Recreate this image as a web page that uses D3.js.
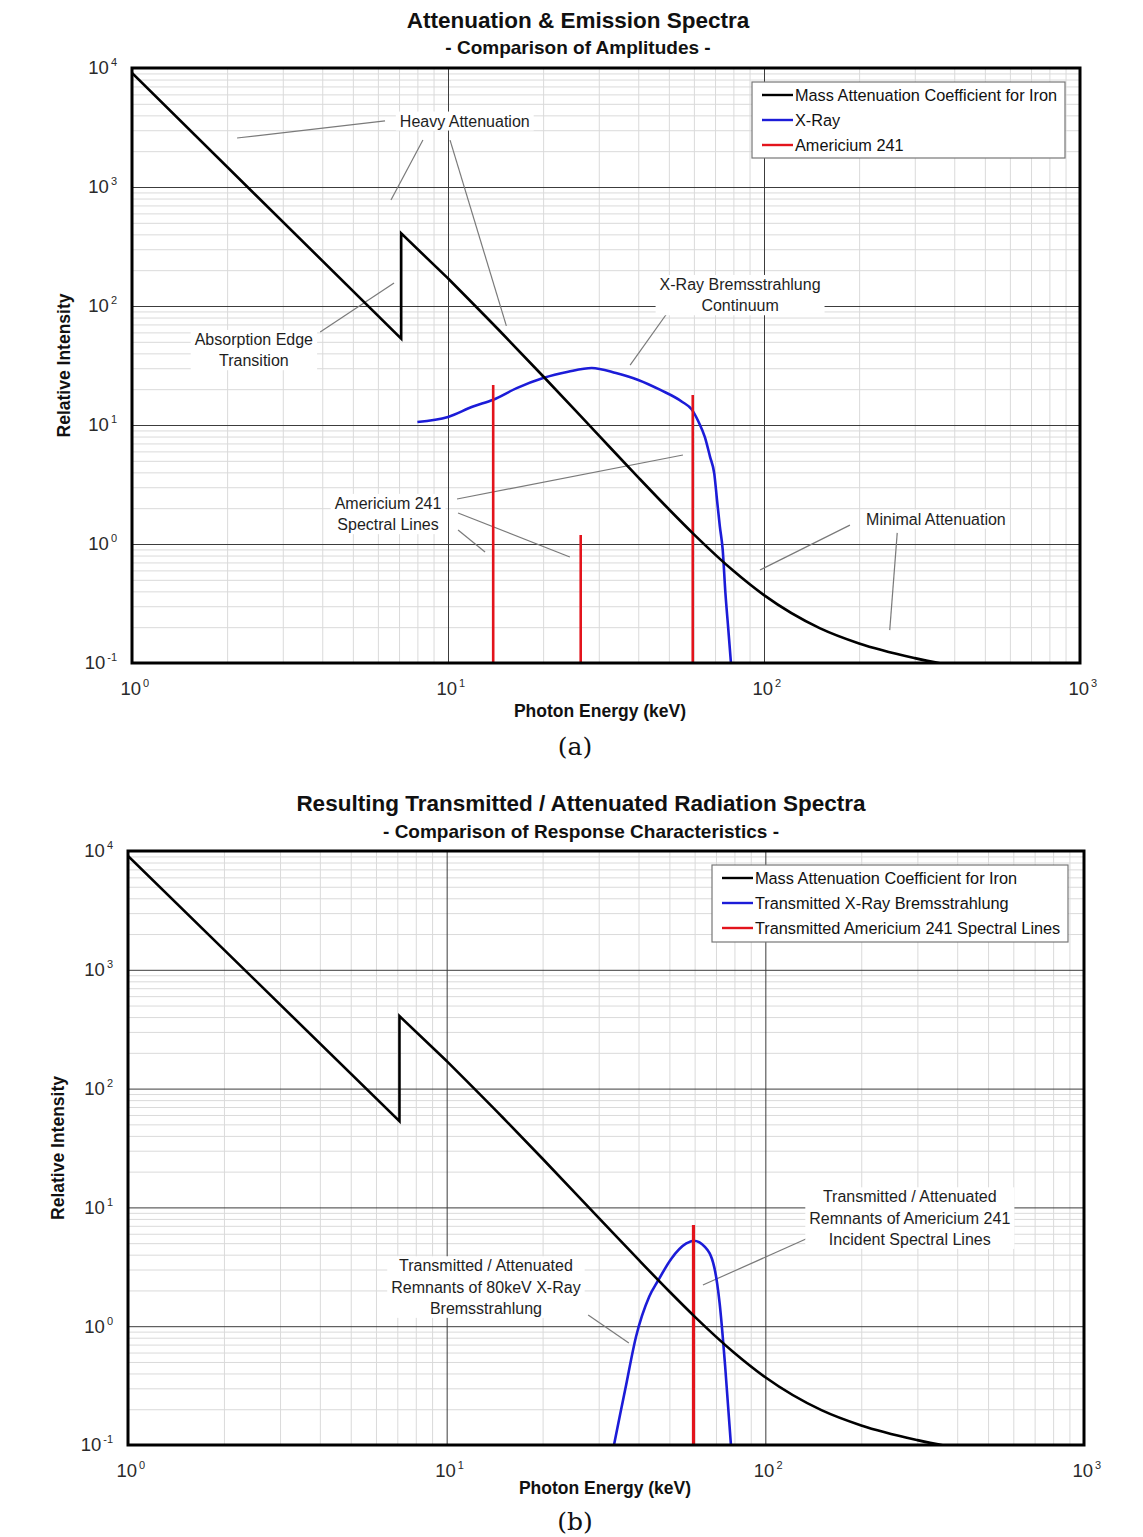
<!DOCTYPE html>
<html lang="en">
<head>
<meta charset="UTF-8">
<title>Attenuation & Emission Spectra</title>
<script src="https://d3js.org/d3.v7.min.js"></script>
<style>
    body { margin: 0; background: #fff; font-family: "Liberation Sans", Arial, sans-serif; }
    .grid-minor line { stroke: #dadada; stroke-width: 1; }
    .grid-major line { stroke: #3c3c3c; stroke-width: 1; }
    .grid-minor path, .grid-major path, .ticks path, .ticks line { display: none; }
    .ticks text { font-size: 18.5px; fill: #2a2a2a; font-family: "Liberation Sans", Arial, sans-serif; }
    .note { font-size: 16px; fill: #1e1e1e; }
    .leader { stroke: #7a7a7a; stroke-width: 1.2; fill: none; }
    .legend text { font-size: 16.3px; fill: #111; }
</style>
</head>
<body>
<svg id="fig" width="1143" height="1537"></svg>
<script>
// mass attenuation coefficient of iron (cm2/g) vs photon energy (keV), K edge at 7.11 keV
const ironEnergy = [1, 7.11, 7.11, 10, 15, 20, 30, 40, 50, 60, 80, 100, 150, 200, 300, 400];
const ironMu     = [9085, 53.19, 407.5, 170.6, 57.08, 25.68, 8.176, 3.629, 1.958, 1.205, 0.5952, 0.3717, 0.1964, 0.146, 0.1099, 0.094];

// (a) incident x-ray bremsstrahlung continuum
const xrayEnergy    = [8.0, 10, 12, 13.9, 16.5, 20, 24, 28.5, 34, 40, 47, 55, 59.2, 62, 65, 67.5, 69.6, 71, 72.5, 74, 75.5, 77, 78.6];
const xrayIntensity = [10.6, 11.7, 14.3, 16.3, 20.4, 24.8, 28, 30.1, 27.3, 23.9, 19.7, 15.7, 13.4, 10.7, 7.9, 5.4, 3.9, 2.35, 1.4, 0.9, 0.385, 0.2, 0.1];

// (a) americium 241 spectral lines
const amEnergy = [13.9, 26.3, 59.5];
const amPeak   = [21.7, 1.19, 17.9];

// (b) transmitted x-ray remnant
const transEnergy    = [33.5, 35, 36.3, 39.3, 43.2, 46.2, 50.7, 56.5, 59.6, 64.6, 69.1, 71.9, 74.8, 78];
const transIntensity = [0.1, 0.18, 0.29, 0.82, 1.77, 2.45, 3.7, 4.97, 5.24, 4.66, 3.16, 1.55, 0.46, 0.1];

// (b) transmitted americium line
const transAmEnergy = [59.5];
const transAmPeak   = [7.1];

const xTickExp = [0, 1, 2, 3];
const yTickExp = [-1, 0, 1, 2, 3, 4];

const legendA = ["Mass Attenuation Coefficient for Iron", "X-Ray", "Americium 241"];
const legendB = ["Mass Attenuation Coefficient for Iron", "Transmitted X-Ray Bremsstrahlung", "Transmitted Americium 241 Spectral Lines"];
const seriesColors = ["#000000", "#1c1cd8", "#e3141c"];

// annotations, anchored in data units [keV, intensity]
const notesA = [
    {lines: ["Heavy Attenuation"], at: [11.3, 3590],
     leaders: [[[6.32, 3590], [2.15, 2580]], [[8.33, 2480], [6.60, 778]], [[10.15, 2480], [15.3, 68]]]},
    {lines: ["Absorption Edge", "Transition"], at: [2.43, 42.7],
     leaders: [[[3.94, 60.4], [6.75, 156]]]},
    {lines: ["X-Ray Bremsstrahlung", "Continuum"], at: [84.0, 123.7],
     leaders: [[[51.5, 102], [37.7, 31.9]]]},
    {lines: ["Americium 241", "Spectral Lines"], at: [6.46, 1.79],
     leaders: [[[10.68, 2.39], [55.4, 5.6]], [[10.76, 1.82], [24.3, 0.778]], [[10.76, 1.31], [13.1, 0.857]]]},
    {lines: ["Minimal Attenuation"], at: [350, 1.62],
     leaders: [[[187, 1.44], [97.1, 0.605]], [[264, 1.24], [250, 0.189]]]}
];
const notesB = [
    {lines: ["Transmitted / Attenuated", "Remnants of 80keV X-Ray", "Bremsstrahlung"], at: [13.28, 2.14],
     leaders: [[[27.8, 1.24], [37.3, 0.722]]]},
    {lines: ["Transmitted / Attenuated", "Remnants of Americium 241", "Incident Spectral Lines"], at: [284, 8.14],
     leaders: [[[143, 5.86], [63.7, 2.22]]]}
];

const svg = d3.select('#fig');
svg.append('rect').attr('width', 1143).attr('height', 1537).attr('fill', '#fff');

drawPanel({
    key: 'a', left: 132, top: 68, right: 1080, bottom: 663,
    title: "Attenuation & Emission Spectra", subtitle: "- Comparison of Amplitudes -",
    titleX: 578, titleY: 28, subY: 54, yTitleX: 64, xTitleX: 600, xTitleY: 717,
    caption: "(a)", captionY: 755, redWidth: 2.6,
    legend: legendA, legendBox: {x: 752, y: 82, w: 313, h: 76},
    blue: [xrayEnergy, xrayIntensity], red: [amEnergy, amPeak], notes: notesA
});
drawPanel({
    key: 'b', left: 128, top: 851, right: 1084, bottom: 1445,
    title: "Resulting Transmitted / Attenuated Radiation Spectra", subtitle: "- Comparison of Response Characteristics -",
    titleX: 581, titleY: 811, subY: 838, yTitleX: 58, xTitleX: 605, xTitleY: 1494,
    caption: "(b)", captionY: 1530, redWidth: 3.2,
    legend: legendB, legendBox: {x: 712, y: 865, w: 356, h: 77},
    blue: [transEnergy, transIntensity], red: [transAmEnergy, transAmPeak], notes: notesB
});

function drawPanel(p){
    let w = p.right - p.left, h = p.bottom - p.top;
    let x = d3.scaleLog().domain([1, 1000]).range([0, w]),
        y = d3.scaleLog().domain([0.1, 10000]).range([h, 0]);
    let g = svg.append('g').attr('transform', 'translate(' + p.left + ',' + p.top + ')');

    let xMajor = xTickExp.map(e => Math.pow(10, e)),
        yMajor = yTickExp.map(e => Math.pow(10, e)),
        xMinor = [], yMinor = [];
    xMajor.slice(0, -1).forEach(d => { for (let k = 2; k <= 9; k++) xMinor.push(d * k); });
    yMajor.slice(0, -1).forEach(d => { for (let k = 2; k <= 9; k++) yMinor.push(d * k); });

    // grid
    g.append('g').attr('class', 'grid-minor')
        .call(d3.axisLeft(y).tickValues(yMinor).tickSize(-w).tickFormat(''));
    g.append('g').attr('class', 'grid-minor').attr('transform', 'translate(0,' + h + ')')
        .call(d3.axisBottom(x).tickValues(xMinor).tickSize(-h).tickFormat(''));
    g.append('g').attr('class', 'grid-major')
        .call(d3.axisLeft(y).tickValues(yMajor.slice(1, -1)).tickSize(-w).tickFormat(''));
    g.append('g').attr('class', 'grid-major').attr('transform', 'translate(0,' + h + ')')
        .call(d3.axisBottom(x).tickValues(xMajor.slice(1, -1)).tickSize(-h).tickFormat(''));

    // tick labels 10^n
    let yAx = g.append('g').attr('class', 'ticks')
        .call(d3.axisLeft(y).tickValues(yMajor).tickSize(0).tickPadding(15).tickFormat(''));
    yAx.selectAll('text').each(function(d){ supLabel(d3.select(this), d); });
    let xAx = g.append('g').attr('class', 'ticks').attr('transform', 'translate(0,' + h + ')')
        .call(d3.axisBottom(x).tickValues(xMajor).tickSize(0).tickPadding(19).tickFormat(''));
    xAx.selectAll('text').attr('text-anchor', 'start').each(function(d){ supLabel(d3.select(this), d); })
        .attr('dx', -12);

    // annotations
    let clipId = 'clip-' + p.key;
    g.append('clipPath').attr('id', clipId).append('rect').attr('width', w).attr('height', h);

    let notes = g.append('g');
    p.notes.forEach(n => {
        n.leaders.forEach(l => {
            notes.append('line').attr('class', 'leader')
                .attr('x1', x(l[0][0])).attr('y1', y(l[0][1]))
                .attr('x2', x(l[1][0])).attr('y2', y(l[1][1]));
        });
        let cx = x(n.at[0]), cy = y(n.at[1]);
        let t = notes.append('text').attr('class', 'note').attr('text-anchor', 'middle');
        n.lines.forEach((s, i) => {
            t.append('tspan').attr('x', cx)
                .attr('y', cy + (i - (n.lines.length - 1) / 2) * 21.3)
                .attr('dy', '0.35em').text(s);
        });
        let bb = t.node().getBBox();
        notes.insert('rect', function(){ return t.node(); })
            .attr('x', bb.x - 4).attr('y', bb.y - 1)
            .attr('width', bb.width + 8).attr('height', bb.height + 2)
            .attr('fill', '#fff');
    });

    // curves
    let straight = d3.line().x(d => x(d[0])).y(d => y(d[1]));
    let smooth = d3.line().x(d => x(d[0])).y(d => y(d[1])).curve(d3.curveMonotoneX);
    let plot = g.append('g').attr('clip-path', 'url(#' + clipId + ')');
    plot.append('path').datum(d3.zip(p.blue[0], p.blue[1]))
        .attr('d', smooth).attr('fill', 'none')
        .attr('stroke', seriesColors[1]).attr('stroke-width', 2.6);
    plot.selectAll('.am').data(d3.zip(p.red[0], p.red[1])).enter()
        .append('line').attr('class', 'am')
        .attr('x1', d => x(d[0])).attr('x2', d => x(d[0]))
        .attr('y1', d => y(d[1])).attr('y2', h)
        .attr('stroke', seriesColors[2]).attr('stroke-width', p.redWidth);

    // iron: straight through the K edge, smooth above it
    let iron = d3.zip(ironEnergy, ironMu),
        k = ironEnergy.lastIndexOf(ironEnergy[1]) + 1,
        dIron = straight(iron.slice(0, k + 1)) + smooth(iron.slice(k)).replace(/^M[^LC]*/, '');
    plot.append('path').attr('d', dIron).attr('fill', 'none')
        .attr('stroke', seriesColors[0]).attr('stroke-width', 2.6)
        .attr('stroke-linejoin', 'miter');

    // legend
    let lb = p.legendBox;
    let leg = svg.append('g').attr('class', 'legend').attr('transform', 'translate(' + lb.x + ',' + lb.y + ')');
    leg.append('rect').attr('width', lb.w).attr('height', lb.h)
        .attr('fill', '#fff').attr('stroke', '#777').attr('stroke-width', 1.2);
    p.legend.forEach((s, i) => {
        let ly = 13 + i * 25;
        leg.append('line').attr('x1', 10).attr('x2', 41).attr('y1', ly).attr('y2', ly)
            .attr('stroke', seriesColors[i]).attr('stroke-width', 2.4);
        leg.append('text').attr('x', 43).attr('y', ly).attr('dy', '0.36em').text(s);
    });

    // frame
    g.append('rect').attr('width', w).attr('height', h)
        .attr('fill', 'none').attr('stroke', '#000').attr('stroke-width', 3);

    // titles
    svg.append('text').attr('x', p.titleX).attr('y', p.titleY).attr('text-anchor', 'middle')
        .attr('font-size', 22.5).attr('font-weight', 'bold').attr('fill', '#111').text(p.title);
    svg.append('text').attr('x', p.titleX).attr('y', p.subY).attr('text-anchor', 'middle')
        .attr('font-size', 19).attr('font-weight', 'bold').attr('fill', '#111').text(p.subtitle);
    svg.append('text').attr('transform', 'translate(' + p.yTitleX + ',' + (p.top + h / 2) + ') rotate(-90)')
        .attr('text-anchor', 'middle').attr('dy', '0.35em')
        .attr('font-size', 17.5).attr('font-weight', 'bold').attr('fill', '#111').text('Relative Intensity');
    svg.append('text').attr('x', p.xTitleX).attr('y', p.xTitleY).attr('text-anchor', 'middle')
        .attr('font-size', 17.5).attr('font-weight', 'bold').attr('fill', '#111').text('Photon Energy (keV)');
    svg.append('text').attr('x', 575).attr('y', p.captionY).attr('text-anchor', 'middle')
        .attr('font-family', '"DejaVu Serif", serif').attr('font-size', 25).attr('fill', '#111').text(p.caption);
}

function supLabel(t, v){
    let e = Math.round(Math.log10(v));
    t.text(null);
    t.append('tspan').text('10');
    t.append('tspan').attr('dy', -8).attr('dx', 2).attr('font-size', 11).text(e);
}
</script>
</body>
</html>
